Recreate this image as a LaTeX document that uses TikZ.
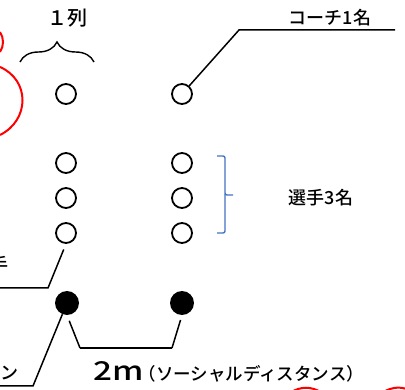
\documentclass[tikz,border=0pt]{standalone}
\usepackage{fontspec}
\setmainfont{Noto Sans CJK JP}[UprightFont = * Medium]
\usetikzlibrary{decorations.pathreplacing}

\begin{document}
\begin{tikzpicture}[x=1pt,y=-1pt]
    \tikzstyle{leader} = [line width=1.5pt,draw=black]
    \tikzstyle{person} = [
      circle,
      draw=black,
      line width=1.8pt,
      minimum size=20pt,
      inner sep=0pt,
    ]
    \tikzstyle{marker} = [circle,fill=black,minimum size=24pt,inner sep=0pt]
    \tikzstyle{txt}    = [font=\fontsize{18}{20}\selectfont,inner sep=0pt]
    \tikzstyle{redline} = [line width=2pt,draw=red]

    \clip (0,0) rectangle (405,390);

    \node[person] (c1) at (66,94) {};
    \node[person] (c2) at (182,94) {};
    \node[person] (p1) at (66,163) {};
    \node[person] (p2) at (182,163) {};
    \node[person] (p3) at (66,198) {};
    \node[person] (p4) at (182,198) {};
    \node[person] (p5) at (66,233) {};
    \node[person] (p6) at (182,233) {};
    \node[marker] (s1) at (67,303) {};
    \node[marker] (s2) at (182,303) {};

    \node[txt,font=\fontsize{20}{22}\selectfont] (col) at (68,18) {１列};
    \node[txt] (coach) at (330,18) {コーチ1名};
    \node[txt] (players) at (321,198) {選手3名};
    \node[txt,font=\fontsize{17.5}{20}\selectfont,anchor=base west] (dist) at (93,381)
      {{\fontsize{26}{26}\selectfont\scalebox{1.28}[1]{2m}}\hspace{-5pt}（ソーシャルディスタンス）};
    \node[txt,anchor=east] (cut1) at (9,265) {手};
    \node[txt,anchor=east] (cut2) at (19,373) {ーン};

    \coordinate (k1) at (239,30);
    \coordinate (k2) at (395,30);
    \coordinate (k3) at (48,288);
    \coordinate (k4) at (0,288);
    \coordinate (k5) at (33,386);
    \coordinate (k6) at (0,386);
    \coordinate (b1) at (80,348);
    \coordinate (b2) at (172,348);

    \draw[leader] (c2)--(k1)--(k2);
    \draw[leader,shorten <=6pt] (p5.south)--(k3)--(k4);
    \draw[leader] (s1)--(k5)--(k6);
    \draw[leader,shorten <=6pt] (s1.south)--(b1);
    \draw[leader] (b1)--(b2);
    \draw[leader,shorten >=5pt] (b2)--(s2.south);

    % brace over the column
    \draw[line width=1.4pt,decorate,decoration={brace,amplitude=20pt}] (20,62)--(94,62);
    % bracket beside the players
    \draw[line width=1.4pt,draw={rgb,255:red,68;green,114;blue,196},rounded corners=2pt]
      (217,156) -| (225,195) -- (233,195);
    \draw[line width=1.4pt,draw={rgb,255:red,68;green,114;blue,196},rounded corners=2pt]
      (225,194) |- (217,233);

    % red outlines cut by the edge
    \draw[redline] (0,32) .. controls (4,38) and (4,46) .. (0,52);
    \draw[redline] (0,67) .. controls (30,80) and (30,120) .. (0,135);
    \draw[redline] (290,393) .. controls (300,386) and (312,386) .. (322,393);
    \draw[redline] (382,393) .. controls (392,386) and (404,386) .. (412,392);
  \end{tikzpicture}
\end{document}
